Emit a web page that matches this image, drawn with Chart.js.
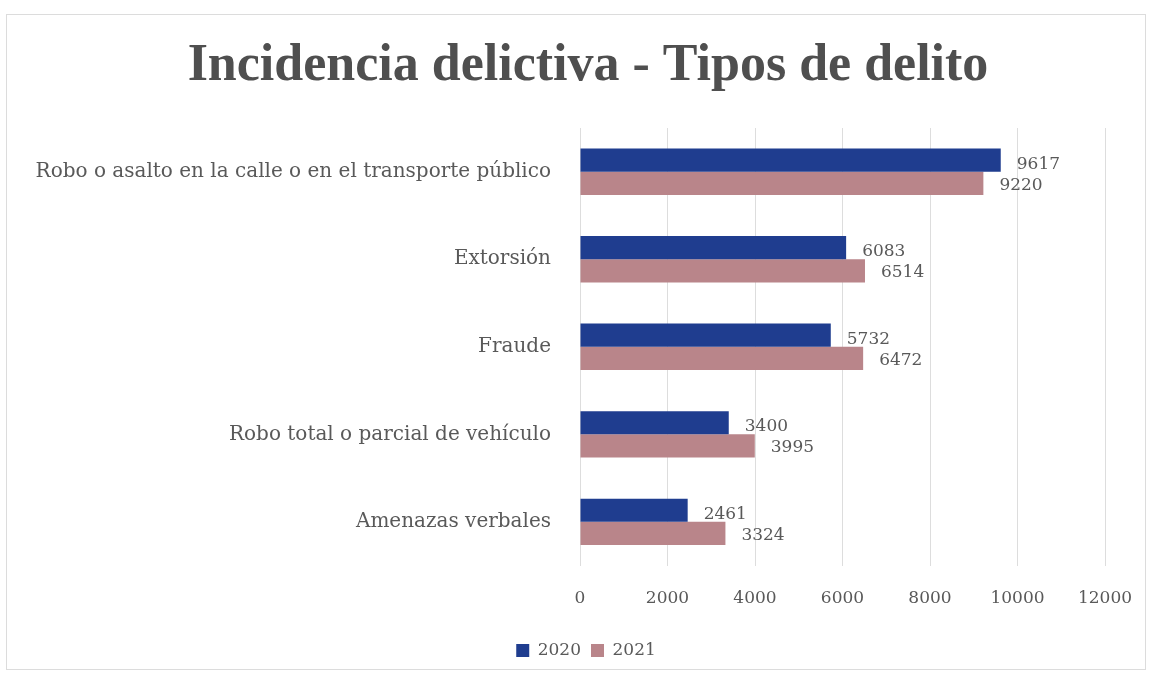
<!DOCTYPE html>
<html>
<head>
<meta charset="utf-8">
<script src="https://cdn.jsdelivr.net/npm/chart.js@4"></script>
<style>
  html, body { margin: 0; padding: 0; background: #fff; }
  #frame {
    position: absolute; left: 6px; top: 14px; width: 1140px; height: 656px;
    border: 1px solid #dcdcdc; box-sizing: border-box; background: #fff;
  }
  canvas { display: block; }
</style>
</head>
<body>
<div id="frame"><canvas id="chart" width="1138" height="654"></canvas></div>
<script>
// Data
const chartTitle = 'Incidencia delictiva - Tipos de delito';
const categories = [
  'Robo o asalto en la calle o en el transporte público',
  'Extorsión',
  'Fraude',
  'Robo total o parcial de vehículo',
  'Amenazas verbales'
];
const values2020 = [9617, 6083, 5732, 3400, 2461];
const values2021 = [9220, 6514, 6472, 3995, 3324];
const xTicks = [0, 2000, 4000, 6000, 8000, 10000, 12000];

const titleFont = "'Liberation Serif', serif";
const serif = "'DejaVu Serif', 'Liberation Serif', serif";
const textColor = '#595959';

// title is drawn by hand so it can sit off-centre like the original
const titlePlugin = {
  id: 'offsetTitle',
  afterLayout(chart) {
    // nudge the legend right, under the title centre
    chart.legend.left += 30;
    chart.legend.right += 30;
  },
  afterDraw(chart) {
    const ctx = chart.ctx;
    ctx.save();
    ctx.font = 'bold 52px ' + titleFont;
    ctx.fillStyle = '#4f4f4f';
    ctx.textAlign = 'center';
    ctx.textBaseline = 'alphabetic';
    ctx.fillText(chartTitle, 581, 65);
    ctx.restore();
  }
};

// draws the value next to each bar end
const valueLabels = {
  id: 'valueLabels',
  afterDatasetsDraw(chart) {
    const ctx = chart.ctx;
    ctx.save();
    ctx.font = '17px ' + serif;
    ctx.fillStyle = textColor;
    ctx.textAlign = 'left';
    ctx.textBaseline = 'middle';
    chart.data.datasets.forEach((ds, i) => {
      const meta = chart.getDatasetMeta(i);
      meta.data.forEach((bar, j) => {
        ctx.fillText(String(ds.data[j]), bar.x + 16, bar.y + (i === 0 ? 4 : 2));
      });
    });
    ctx.restore();
  }
};

new Chart(document.getElementById('chart'), {
  type: 'bar',
  data: {
    labels: categories,
    datasets: [
      { label: '2020', data: values2020, backgroundColor: '#1f3d8f' },
      { label: '2021', data: values2021, backgroundColor: '#b9858a' }
    ]
  },
  options: {
    indexAxis: 'y',
    responsive: false,
    animation: false,
    layout: { padding: { left: 0, right: 40, top: 113, bottom: 0 } },
    datasets: { bar: { categoryPercentage: 0.53, barPercentage: 1.0 } },
    plugins: {
      title: { display: false },
      legend: {
        position: 'bottom',
        labels: {
          color: textColor,
          font: { family: serif, size: 17 },
          boxWidth: 13, boxHeight: 13, padding: 10
        }
      },
      tooltip: { enabled: false }
    },
    scales: {
      x: {
        min: 0, max: 12000,
        afterBuildTicks: (scale) => { scale.ticks = xTicks.map(v => ({ value: v })); },
        afterFit: (scale) => { scale.paddingRight = 0; scale.paddingLeft = 0; },
        grid: { color: '#dddddd', drawTicks: false },
        border: { display: false },
        ticks: {
          color: textColor, font: { family: serif, size: 17 }, padding: 23,
          callback: (v) => String(v)
        }
      },
      y: {
        grid: { display: false },
        border: { display: false },
        afterFit: (scale) => { scale.width = 573; },
        ticks: { color: textColor, font: { family: serif, size: 20 }, padding: 21 }
      }
    }
  },
  plugins: [valueLabels, titlePlugin]
});
</script>
</body>
</html>
